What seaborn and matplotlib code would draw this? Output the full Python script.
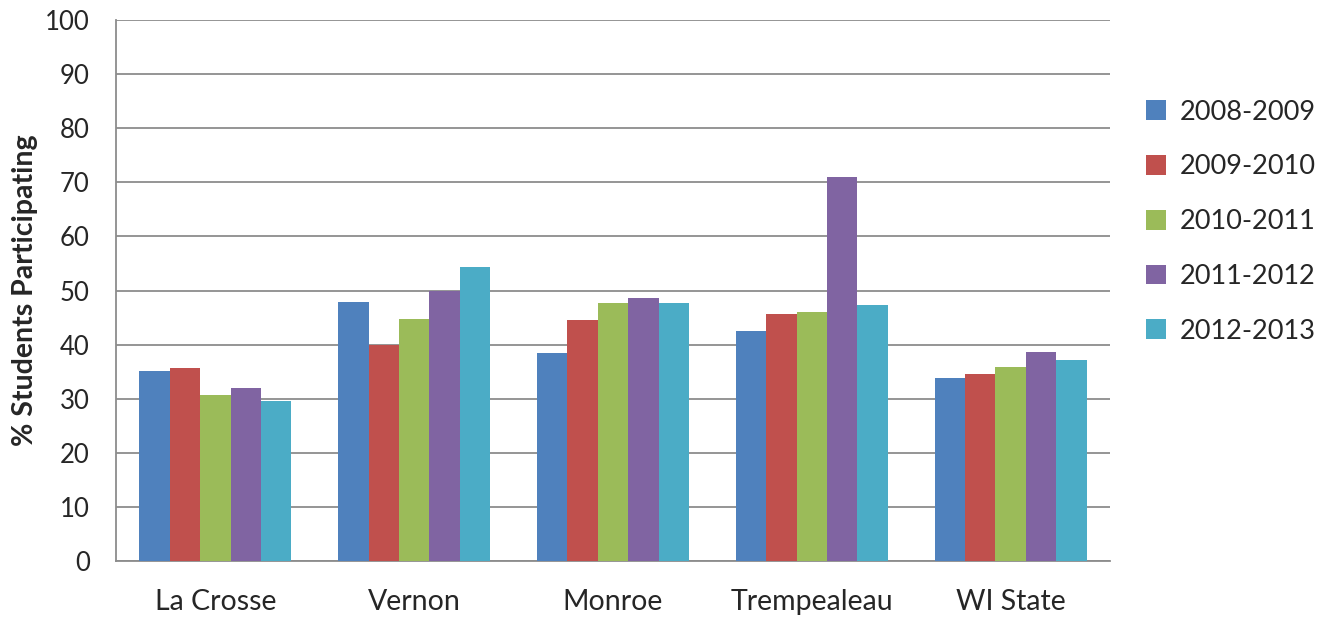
import matplotlib
matplotlib.use("Agg")
import matplotlib.pyplot as plt
import seaborn as sns
import pandas as pd
from matplotlib.patches import Patch

counties = ["La Crosse", "Vernon", "Monroe", "Trempealeau", "WI State"]
years = ["2008-2009", "2009-2010", "2010-2011", "2011-2012", "2012-2013"]
v2008 = [35.1, 47.9, 38.4, 42.6, 33.8]
v2009 = [35.7, 39.9, 44.5, 45.6, 34.5]
v2010 = [30.7, 44.7, 47.7, 46.1, 35.8]
v2011 = [32.0, 50.0, 48.6, 71.0, 38.6]
v2012 = [29.6, 54.4, 47.6, 47.4, 37.1]
colors = ["#4F81BD", "#C0504D", "#9BBB59", "#8064A2", "#4BACC6"]

series = [v2008, v2009, v2010, v2011, v2012]
df = pd.DataFrame([
    {"County": c, "Year": y, "Pct": vals[i]}
    for y, vals in zip(years, series)
    for i, c in enumerate(counties)
])

sns.set_style("white")
plt.rcParams["font.family"] = ["Lato", "DejaVu Sans"]

fig = plt.figure(figsize=(13.37, 6.21), dpi=100)
ax = fig.add_axes([0.0868, 0.0966, 0.7434, 0.8712])

sns.barplot(data=df, x="County", y="Pct", hue="Year", order=counties,
            hue_order=years, palette=colors, width=0.765, gap=0,
            saturation=1, linewidth=0, legend=False, ax=ax, zorder=3)

ax.set_ylim(0, 100)
ax.set_xlim(-0.5, 4.5)
ax.set_yticks(range(0, 101, 10))
ax.yaxis.grid(True, color="#8C8C8C", linewidth=1.3, zorder=0)
ax.set_axisbelow(True)
for s in ["top", "right"]:
    ax.spines[s].set_visible(False)
for s in ["left", "bottom"]:
    ax.spines[s].set_color("#8C8C8C")
    ax.spines[s].set_linewidth(1.3)
ax.tick_params(axis="y", length=5, color="#8C8C8C", width=1.3, labelsize=18.5, pad=14)
ax.tick_params(axis="x", length=0, labelsize=20.5, pad=20)
ax.set_xlabel("")
ax.set_ylabel("% Students Participating", fontsize=20.5, fontweight="bold", labelpad=5)

handles = [Patch(facecolor=c, edgecolor="none") for c in colors]
fig.legend(handles, years, loc="center left", bbox_to_anchor=(0.839, 0.643),
           frameon=False, fontsize=19.5, handlelength=0.75, handleheight=0.75,
           labelspacing=1.1, handletextpad=0.5)

fig.savefig("out.png", dpi=100)
